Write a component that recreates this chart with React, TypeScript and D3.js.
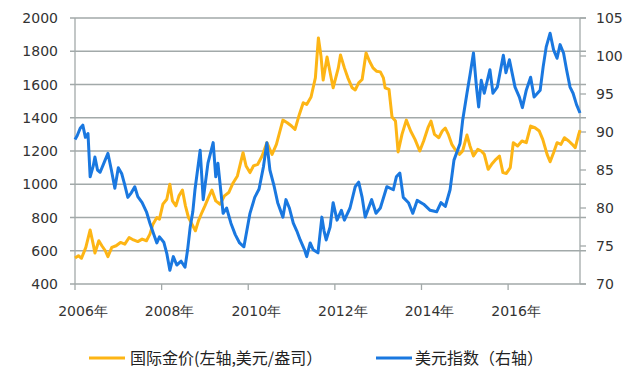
import React from "react";
import * as d3 from "d3";

const goldYears = [2006.00,2006.08,2006.15,2006.25,2006.35,2006.42,2006.46,2006.55,2006.62,2006.70,2006.76,2006.85,2006.95,2007.05,2007.15,2007.25,2007.35,2007.45,2007.55,2007.65,2007.73,2007.80,2007.89,2007.95,2008.03,2008.12,2008.19,2008.25,2008.33,2008.40,2008.48,2008.55,2008.62,2008.70,2008.78,2008.85,2008.93,2009.00,2009.08,2009.16,2009.25,2009.35,2009.45,2009.55,2009.65,2009.75,2009.88,2009.95,2010.04,2010.12,2010.22,2010.32,2010.43,2010.55,2010.65,2010.80,2010.90,2011.00,2011.08,2011.18,2011.27,2011.35,2011.45,2011.55,2011.62,2011.68,2011.73,2011.82,2011.96,2012.08,2012.13,2012.22,2012.30,2012.40,2012.47,2012.55,2012.63,2012.72,2012.80,2012.88,2012.96,2013.05,2013.12,2013.16,2013.25,2013.32,2013.40,2013.46,2013.55,2013.65,2013.75,2013.85,2013.96,2014.05,2014.15,2014.22,2014.30,2014.40,2014.48,2014.55,2014.62,2014.70,2014.80,2014.88,2014.95,2015.05,2015.12,2015.20,2015.30,2015.38,2015.45,2015.54,2015.62,2015.72,2015.80,2015.88,2015.96,2016.05,2016.12,2016.22,2016.32,2016.42,2016.52,2016.62,2016.72,2016.80,2016.90,2016.97,2017.05,2017.13,2017.22,2017.30,2017.40,2017.48,2017.55,2017.62,2017.66];
const goldValues = [556,570,555,620,725,640,586,660,630,600,565,620,630,650,640,680,665,655,670,660,700,760,800,790,880,910,1000,900,870,930,965,870,800,760,720,780,830,870,920,965,900,880,930,950,1008,1050,1190,1110,1070,1110,1120,1170,1250,1180,1240,1386,1370,1350,1330,1420,1490,1480,1525,1640,1880,1770,1627,1765,1580,1700,1778,1700,1640,1580,1567,1610,1630,1790,1740,1700,1680,1676,1640,1580,1570,1404,1380,1194,1300,1386,1320,1270,1200,1260,1340,1380,1300,1280,1320,1338,1300,1240,1200,1180,1200,1296,1230,1170,1210,1200,1180,1090,1120,1150,1170,1070,1065,1100,1250,1230,1260,1250,1350,1340,1320,1270,1180,1135,1190,1250,1240,1280,1260,1240,1220,1290,1326];

const usdYears = [2006.00,2006.05,2006.12,2006.18,2006.24,2006.30,2006.35,2006.42,2006.46,2006.52,2006.58,2006.66,2006.76,2006.84,2006.92,2007.00,2007.08,2007.15,2007.22,2007.30,2007.38,2007.45,2007.55,2007.65,2007.73,2007.82,2007.89,2007.95,2008.05,2008.12,2008.19,2008.27,2008.35,2008.45,2008.54,2008.60,2008.66,2008.72,2008.77,2008.83,2008.89,2008.96,2009.07,2009.19,2009.25,2009.30,2009.42,2009.50,2009.60,2009.70,2009.80,2009.90,2010.04,2010.15,2010.25,2010.35,2010.43,2010.50,2010.60,2010.68,2010.80,2010.87,2010.95,2011.04,2011.12,2011.20,2011.30,2011.35,2011.43,2011.50,2011.61,2011.70,2011.75,2011.80,2011.89,2011.96,2012.05,2012.15,2012.22,2012.35,2012.47,2012.55,2012.63,2012.70,2012.85,2012.95,2013.05,2013.20,2013.35,2013.42,2013.50,2013.58,2013.70,2013.80,2013.90,2014.05,2014.20,2014.35,2014.45,2014.55,2014.66,2014.75,2014.89,2014.95,2015.05,2015.12,2015.20,2015.27,2015.32,2015.38,2015.45,2015.58,2015.65,2015.75,2015.89,2015.95,2016.03,2016.16,2016.26,2016.33,2016.42,2016.52,2016.60,2016.74,2016.81,2016.88,2016.97,2017.05,2017.13,2017.20,2017.28,2017.35,2017.43,2017.50,2017.58,2017.66];
const usdValues = [89.0,89.5,90.5,90.9,89.3,89.8,84.1,85.5,86.7,85.0,84.7,85.8,87.2,85.0,82.6,85.3,84.5,83.0,81.4,82.0,82.8,81.5,80.7,79.5,78.0,76.5,75.4,76.2,75.5,74.0,71.8,73.6,72.5,73.0,72.2,74.5,77.5,79.5,82.4,85.0,87.6,81.1,85.9,88.6,84.1,85.9,79.3,80.0,78.0,76.5,75.4,74.9,79.3,81.4,82.5,85.4,88.6,85.0,82.8,80.7,78.8,81.1,80.0,78.0,77.0,75.8,74.5,73.6,75.4,74.5,74.1,78.8,77.0,75.8,77.5,80.7,78.4,79.7,78.4,80.0,82.8,83.4,81.4,78.8,81.1,79.3,80.0,82.8,82.4,84.1,84.6,81.4,80.7,79.3,81.0,80.5,79.7,79.5,80.7,80.2,82.4,86.3,88.5,91.5,95.1,97.5,100.4,95.9,93.3,96.8,95.1,98.2,95.1,95.9,100.1,97.8,99.5,95.9,94.6,93.2,95.5,97.2,94.6,95.5,98.6,101.2,103.0,100.8,99.7,101.5,100.4,98.2,95.9,95.1,93.6,92.5];

const leftTicks = [400, 600, 800, 1000, 1200, 1400, 1600, 1800, 2000];
const rightTicks = [70, 75, 80, 85, 90, 95, 100, 105];
const xTicks = [2006, 2008, 2010, 2012, 2014, 2016];
const xTickLabels = ["2006年", "2008年", "2010年", "2012年", "2014年", "2016年"];
const legendLabels = ["国际金价(左轴,美元/盎司）", "美元指数（右轴）"];

const GOLD = "#FDB515";
const BLUE = "#1A78E0";
const GRID = "#A2A9A9";

export default function App() {
  const left = 75, right = 580, top = 18, bottom = 284;
  const x = d3.scaleLinear().domain([2006, 2017.66]).range([left, right]);
  const yL = d3.scaleLinear().domain([400, 2000]).range([bottom, top]);
  const yR = d3.scaleLinear().domain([70, 105]).range([bottom, top]);

  const goldLine = d3.line<number>().x((_, i) => x(goldYears[i])).y((d) => yL(d))(goldValues) || "";
  const usdLine = d3.line<number>().x((_, i) => x(usdYears[i])).y((d) => yR(d))(usdValues) || "";

  const numFont = "'DejaVu Sans', sans-serif";
  const cjkFont = "'Noto Sans CJK SC', sans-serif";

  return (
    <svg width={640} height={377} style={{ position: "absolute", left: 0, top: 0, background: "#fff" }}>
      {leftTicks.map((t) => (
        <line key={"g" + t} x1={left - 5} x2={right + 6} y1={yL(t)} y2={yL(t)} stroke={GRID} strokeWidth={1.3} />
      ))}
      {rightTicks.map((t) => (
        <line key={"rt" + t} x1={right} x2={right + 6} y1={yR(t)} y2={yR(t)} stroke={GRID} strokeWidth={1.3} />
      ))}
      <line x1={left} x2={left} y1={top} y2={bottom} stroke={GRID} strokeWidth={1.3} />
      <line x1={right} x2={right} y1={top} y2={bottom} stroke={GRID} strokeWidth={1.3} />
      {xTicks.map((t) => (
        <line key={"xt" + t} x1={x(t)} x2={x(t)} y1={bottom} y2={bottom + 6} stroke={GRID} strokeWidth={1.3} />
      ))}
      {leftTicks.map((t) => (
        <text key={"lt" + t} x={58} y={yL(t)} dy="0.36em" textAnchor="end" fontFamily={numFont} fontSize={14} fill="#333">{t}</text>
      ))}
      {rightTicks.map((t) => (
        <text key={"rl" + t} x={596} y={yR(t)} dy="0.36em" textAnchor="start" fontFamily={numFont} fontSize={14} fill="#333">{t}</text>
      ))}
      {xTicks.map((t, i) => (
        <text key={"xl" + t} x={x(t) + 8} y={316} textAnchor="middle" fontFamily={numFont} fontSize={14} fill="#333">{xTickLabels[i]}</text>
      ))}
      <path d={goldLine} fill="none" stroke={GOLD} strokeWidth={3} strokeLinejoin="round" />
      <path d={usdLine} fill="none" stroke={BLUE} strokeWidth={3} strokeLinejoin="round" />
      <line x1={89} x2={125} y1={358} y2={358} stroke={GOLD} strokeWidth={3} />
      <text x={130} y={358} dy="0.36em" fontFamily={cjkFont} fontSize={16} fill="#222">{legendLabels[0]}</text>
      <line x1={376} x2={412} y1={358} y2={358} stroke={BLUE} strokeWidth={3} />
      <text x={415} y={358} dy="0.36em" fontFamily={cjkFont} fontSize={16} fill="#222">{legendLabels[1]}</text>
    </svg>
  );
}
